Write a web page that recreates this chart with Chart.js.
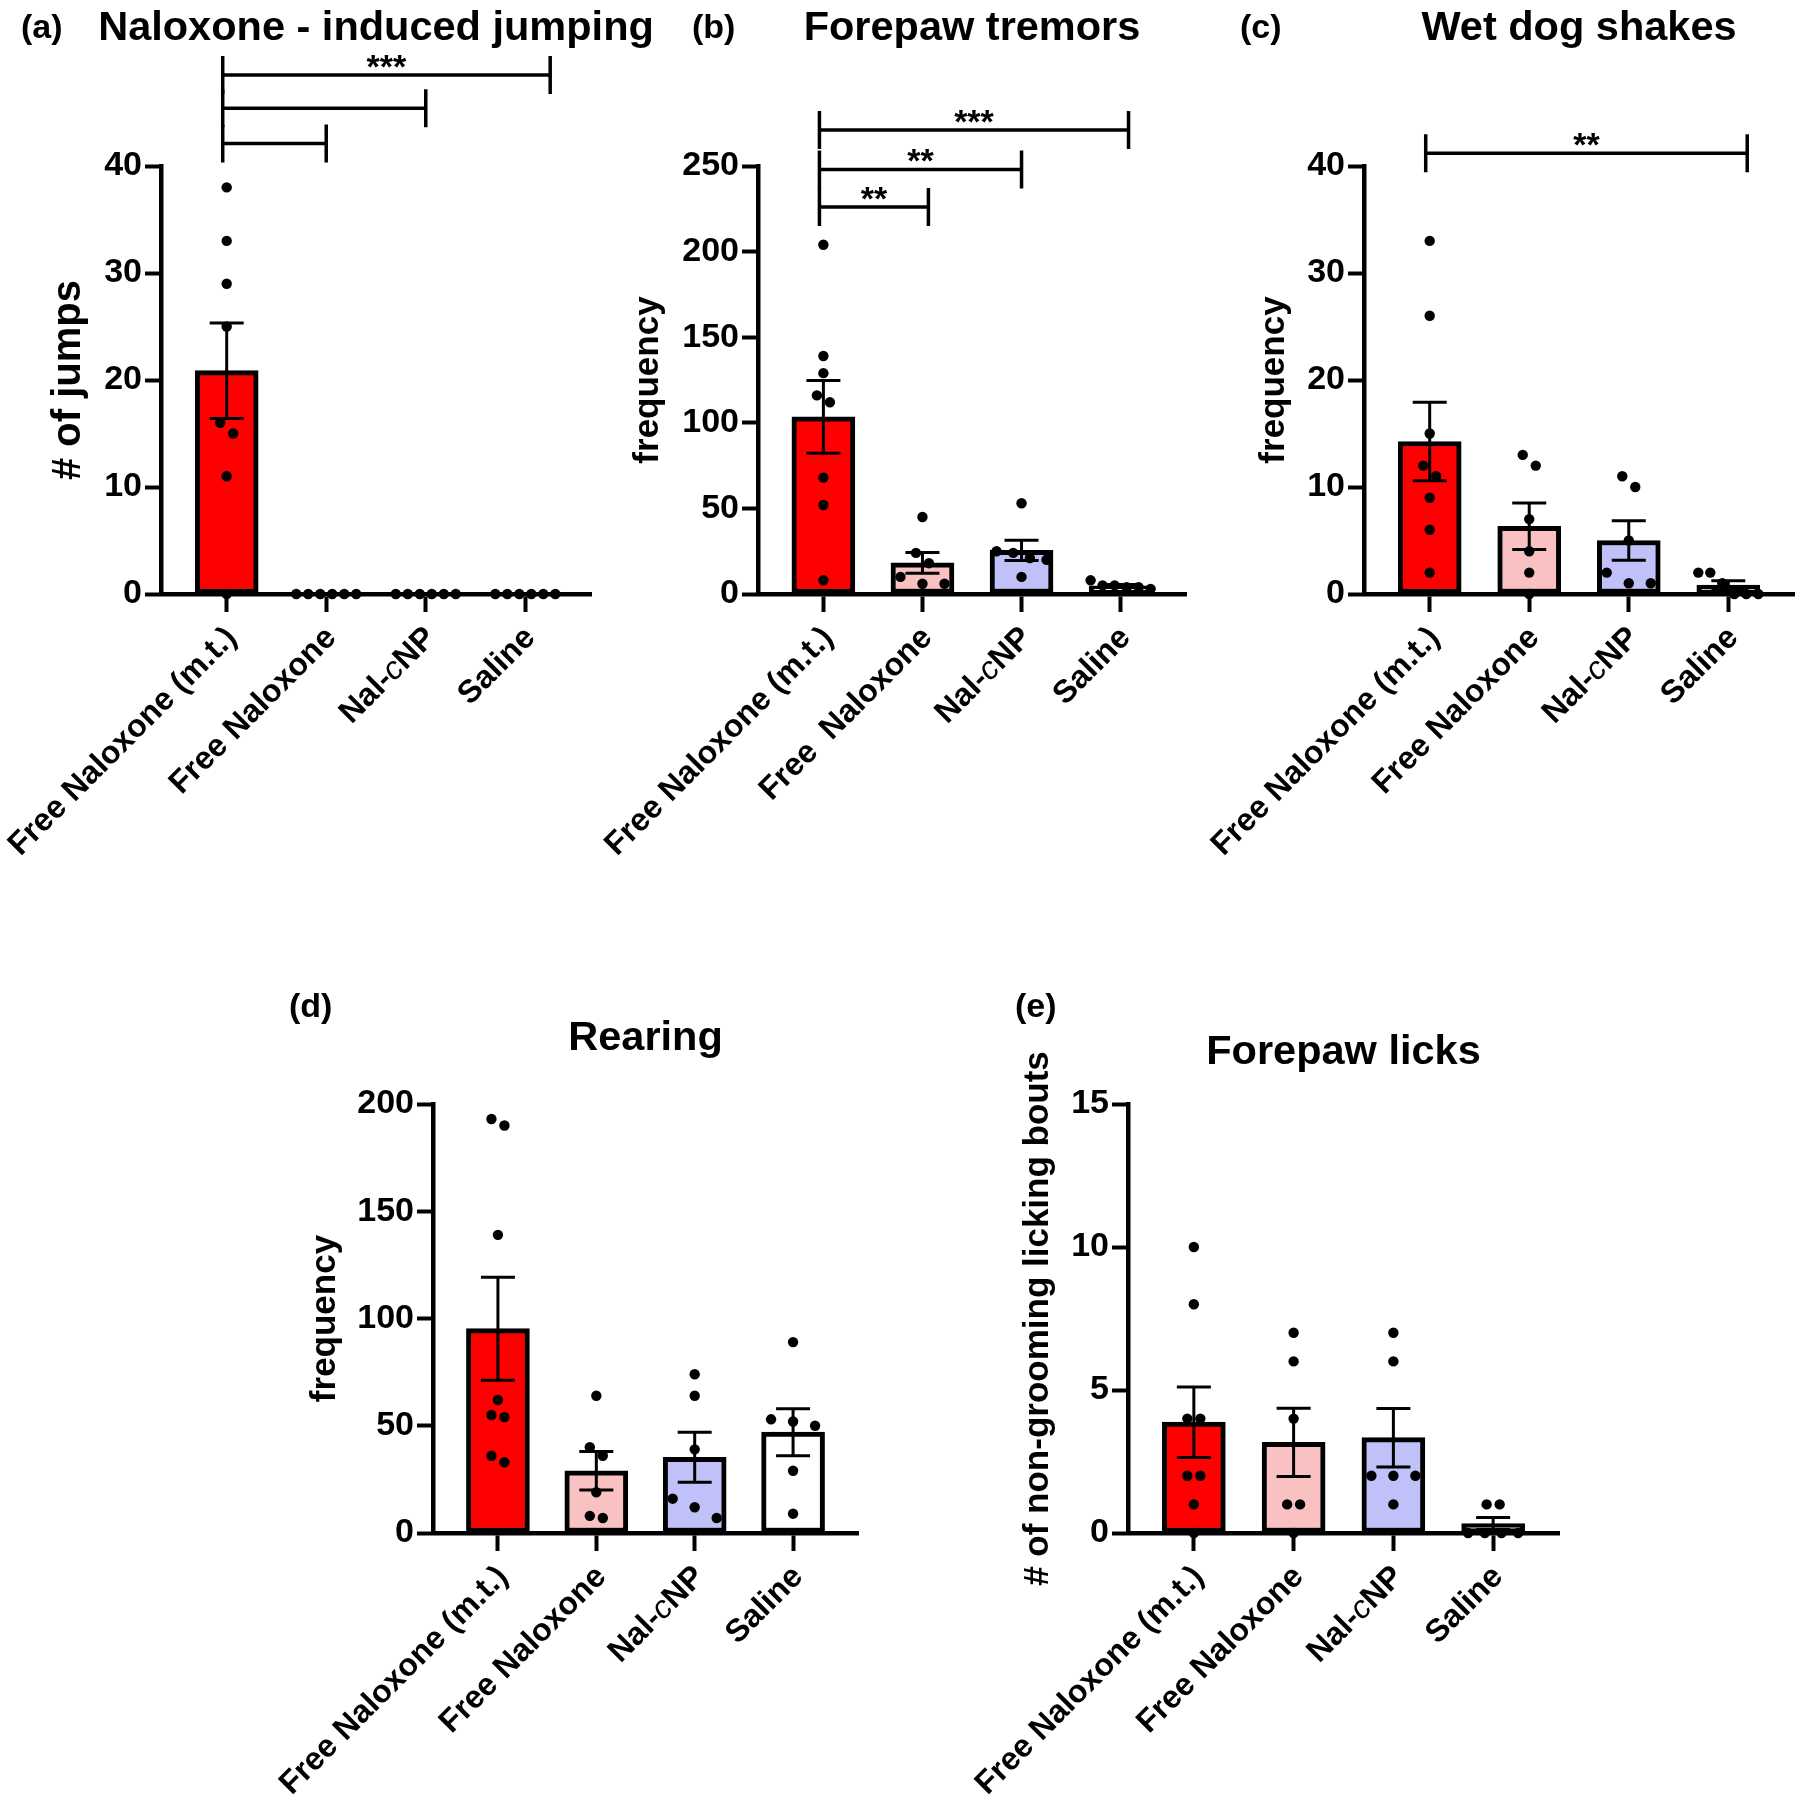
<!DOCTYPE html>
<html>
<head>
<meta charset="utf-8">
<script src="https://cdn.jsdelivr.net/npm/chart.js@4.4.1/dist/chart.umd.min.js"></script>
<style>
  body { margin: 0; background: #fff; width: 1798px; height: 1800px; position: relative; overflow: hidden; }
  canvas { position: absolute; }
</style>
</head>
<body>
<canvas id="pA"></canvas>
<canvas id="pB"></canvas>
<canvas id="pC"></canvas>
<canvas id="pD"></canvas>
<canvas id="pE"></canvas>
<script>
const FONT = '"Liberation Sans", Arial, Helvetica, sans-serif';

// group names (panel b has the double space as in the figure)
const groups = ['Free Naloxone (m.t.)', 'Free Naloxone', 'Nal-cNP', 'Saline'];
const groupsB = ['Free Naloxone (m.t.)', 'Free  Naloxone', 'Nal-cNP', 'Saline'];
const barColors = ['#ff0000', '#f9c1c1', '#c1c1f9', '#ffffff'];

// individual animals per group
const jumping = [[38, 33, 29, 25, 16, 15, 11, 0], [0, 0, 0, 0, 0, 0], [0, 0, 0, 0, 0, 0], [0, 0, 0, 0, 0, 0]];
const tremors = [[204, 139, 129, 116, 112, 68, 52, 8], [45, 24, 18, 10, 6, 6], [53, 25, 24, 21, 20, 10], [8, 5, 5, 4, 4, 3]];
const wetDog = [[33, 26, 15, 12, 11, 9, 6, 2], [13, 12, 7, 4, 2, 0], [11, 10, 5, 2, 1, 1], [2, 2, 1, 0, 0, 0]];
const rearing = [[193, 190, 139, 62, 55, 54, 36, 33], [64, 40, 36, 19, 8, 7], [74, 64, 39, 16, 12, 7], [89, 53, 52, 50, 29, 9]];
const licks = [[10, 8, 4, 4, 2, 2, 1, 0], [7, 6, 4, 1, 1, 0], [7, 6, 2, 2, 2, 1], [1, 1, 0, 0, 0, 0]];

// y tick labels
const ticksA = [0, 10, 20, 30, 40];
const ticksB = [0, 50, 100, 150, 200, 250];
const ticksC = [0, 10, 20, 30, 40];
const ticksD = [0, 50, 100, 150, 200];
const ticksE = [0, 5, 10, 15];

// significance brackets: [from group, to group, height (y units), label]
const bracketsA = [[-0.04, 1, 42.1, ''], [-0.04, 2, 45.4, ''], [-0.04, 3.25, 48.5, '***']];
const bracketsB = [[-0.04, 1.06, 226, '**'], [-0.04, 2, 248, '**'], [-0.04, 3.08, 271, '***']];
const bracketsC = [[-0.04, 3.19, 41.2, '**']];

const panels = [
  { id: 'pA', box: [0, 0, 700, 880], area: [161, 591, 166, 594], letter: '(a)', letterAt: [21, 38],
    title: 'Naloxone - induced jumping', titleBase: 40, yTitle: '# of jumps', yTitleSize: 40, yGap: 92,
    groups: groups, values: jumping, yTicks: ticksA, brackets: bracketsA },
  { id: 'pB', box: [580, 0, 640, 880], area: [758, 1186, 166, 594], letter: '(b)', letterAt: [692, 38],
    title: 'Forepaw tremors', titleBase: 40, yTitle: 'frequency', yTitleSize: 35, yGap: 110,
    groups: groupsB, values: tremors, yTicks: ticksB, brackets: bracketsB },
  { id: 'pC', box: [1180, 0, 618, 880], area: [1364, 1794, 166, 594], letter: '(c)', letterAt: [1240, 38],
    title: 'Wet dog shakes', titleBase: 40, yTitle: 'frequency', yTitleSize: 35, yGap: 90,
    groups: groups, values: wetDog, yTicks: ticksC, brackets: bracketsC },
  { id: 'pD', box: [260, 940, 640, 860], area: [433, 858, 1104, 1533], letter: '(d)', letterAt: [289, 1017],
    title: 'Rearing', titleBase: 1050, yTitle: 'frequency', yTitleSize: 35, yGap: 108,
    groups: groups, values: rearing, yTicks: ticksD, brackets: [] },
  { id: 'pE', box: [940, 940, 858, 860], area: [1128, 1559, 1104, 1533], letter: '(e)', letterAt: [1015, 1017],
    title: 'Forepaw licks', titleBase: 1064, yTitle: '# of non-grooming licking bouts', yTitleSize: 35, yGap: 90,
    groups: groups, values: licks, yTicks: ticksE, brackets: [] }
];

function mean(a) { return a.reduce((s, v) => s + v, 0) / a.length; }
function sem(a) {
  const m = mean(a);
  const v = a.reduce((s, x) => s + (x - m) ** 2, 0) / (a.length - 1);
  return Math.sqrt(v / a.length);
}

// spread points that sit close together, like a prism scatter
function swarm(vals, ys) {
  const pts = vals.map(v => ({ v, py: ys.getPixelForValue(v), dx: 0 })).sort((a, b) => a.py - b.py);
  const clusters = [];
  let cur = [];
  pts.forEach(p => {
    if (cur.length && p.py - cur[cur.length - 1].py > 12) { clusters.push(cur); cur = []; }
    cur.push(p);
  });
  if (cur.length) clusters.push(cur);
  clusters.forEach(c => {
    const n = c.length;
    const sp = n === 1 ? 0 : n === 2 ? 13 : Math.max(12, Math.min(22, 50 / (n - 1)));
    c.forEach((p, k) => { p.dx = (k - (n - 1) / 2) * sp; });
  });
  return pts;
}

function drawLabel(ctx, text, x, y) {
  ctx.save();
  ctx.translate(x, y);
  ctx.rotate(-Math.PI / 4);
  ctx.textBaseline = 'middle';
  ctx.textAlign = 'right';
  const bold = `bold 32px ${FONT}`;
  if (text === 'Nal-cNP') {
    // the "c" is set in italics
    ctx.font = bold;
    ctx.fillText('NP', 0, 0);
    let off = ctx.measureText('NP').width;
    ctx.font = `italic 32px ${FONT}`;
    ctx.fillText('c', -off, 0);
    off += ctx.measureText('c').width;
    ctx.font = bold;
    ctx.fillText('Nal-', -off, 0);
  } else {
    ctx.font = bold;
    ctx.fillText(text, 0, 0);
  }
  ctx.restore();
}

function extras(p) {
  const [bx, by] = p.box;
  return {
    id: 'extras',
    afterDatasetsDraw(chart) {
      const { ctx, scales: { x, y } } = chart;
      p.values.forEach((vals, i) => {
        const cx = x.getPixelForValue(i);
        const m = mean(vals), e = sem(vals);
        ctx.save();
        ctx.strokeStyle = '#000';
        ctx.lineWidth = 3;
        if (e > 0) {
          const t = y.getPixelForValue(m + e), b = y.getPixelForValue(m - e);
          ctx.beginPath();
          ctx.moveTo(cx, t); ctx.lineTo(cx, b);
          ctx.moveTo(cx - 17, t); ctx.lineTo(cx + 17, t);
          ctx.moveTo(cx - 17, b); ctx.lineTo(cx + 17, b);
          ctx.stroke();
        }
        ctx.fillStyle = '#000';
        swarm(vals, y).forEach(pt => {
          ctx.beginPath();
          ctx.arc(cx + pt.dx, pt.py, 5.2, 0, 2 * Math.PI);
          ctx.fill();
        });
        ctx.restore();
      });
    },
    afterDraw(chart) {
      const { ctx, chartArea, scales: { x, y } } = chart;
      ctx.save();
      ctx.fillStyle = '#000';
      ctx.strokeStyle = '#000';

      // category labels
      const base = y.getPixelForValue(0);
      p.groups.forEach((g, i) => drawLabel(ctx, g, x.getPixelForValue(i) + 5, base + 39));

      // panel letter and title
      ctx.textBaseline = 'alphabetic';
      ctx.font = `bold 34px ${FONT}`;
      ctx.textAlign = 'left';
      ctx.fillText(p.letter, p.letterAt[0] - bx, p.letterAt[1] - by);
      ctx.font = `bold 41.5px ${FONT}`;
      ctx.textAlign = 'center';
      ctx.fillText(p.title, (chartArea.left + chartArea.right) / 2, p.titleBase - by);

      // y axis title
      ctx.save();
      ctx.translate(chartArea.left - p.yGap, (chartArea.top + chartArea.bottom) / 2);
      ctx.rotate(-Math.PI / 2);
      ctx.font = `bold ${p.yTitleSize}px ${FONT}`;
      ctx.textAlign = 'center';
      ctx.textBaseline = 'middle';
      ctx.fillText(p.yTitle, 0, 0);
      ctx.restore();

      // brackets
      ctx.lineWidth = 3.5;
      p.brackets.forEach(([from, to, val, label]) => {
        const x0 = x.getPixelForValue(from), x1 = x.getPixelForValue(to), yy = y.getPixelForValue(val);
        ctx.beginPath();
        ctx.moveTo(x0, yy - 19); ctx.lineTo(x0, yy + 19);
        ctx.moveTo(x1, yy - 19); ctx.lineTo(x1, yy + 19);
        ctx.moveTo(x0, yy); ctx.lineTo(x1, yy);
        ctx.stroke();
        if (label) {
          ctx.font = `bold 34px ${FONT}`;
          ctx.textAlign = 'center';
          ctx.textBaseline = 'alphabetic';
          ctx.fillText(label, (x0 + x1) / 2, yy + 3);
        }
      });
      ctx.restore();
    }
  };
}

function makePanel(p) {
  const cv = document.getElementById(p.id);
  const [bx, by, bw, bh] = p.box;
  const [ax0, ax1, ay0, ay1] = p.area;
  cv.width = bw; cv.height = bh;
  cv.style.left = bx + 'px'; cv.style.top = by + 'px';
  cv.style.width = bw + 'px'; cv.style.height = bh + 'px';
  const yW = 120, xH = 60;
  const yMax = p.yTicks[p.yTicks.length - 1];

  new Chart(cv, {
    type: 'bar',
    data: {
      datasets: [{
        data: p.values.map((v, i) => ({ x: i, y: mean(v) })),
        backgroundColor: barColors,
        borderColor: '#000',
        borderWidth: 5,
        borderSkipped: false,
        barThickness: 63
      }]
    },
    options: {
      responsive: false,
      animation: false,
      devicePixelRatio: 1,
      events: [],
      layout: { padding: { left: ax0 - bx - yW, right: bx + bw - ax1, top: ay0 - by, bottom: by + bh - ay1 - xH } },
      plugins: { legend: { display: false }, tooltip: { enabled: false } },
      scales: {
        x: {
          type: 'linear', min: -0.66, max: p.groups.length - 0.34, offset: false,
          afterBuildTicks: s => { s.ticks = p.groups.map((g, i) => ({ value: i })); },
          afterFit: s => { s.height = xH; },
          ticks: { display: false },
          grid: { offset: false, drawOnChartArea: false, drawTicks: true, tickLength: 18, tickWidth: 4, color: '#000' },
          border: { display: true, color: '#000', width: 4.5 }
        },
        y: {
          min: 0, max: yMax,
          afterBuildTicks: s => { s.ticks = p.yTicks.map(v => ({ value: v })); },
          afterFit: s => { s.width = yW; },
          ticks: { color: '#000', padding: 3, font: { family: FONT, size: 34, weight: 'bold' } },
          grid: { drawOnChartArea: false, drawTicks: true, tickLength: 16, tickWidth: 4, color: '#000' },
          border: { display: true, color: '#000', width: 4.5 }
        }
      }
    },
    plugins: [extras(p)]
  });
}

panels.forEach(makePanel);
</script>
</body>
</html>
